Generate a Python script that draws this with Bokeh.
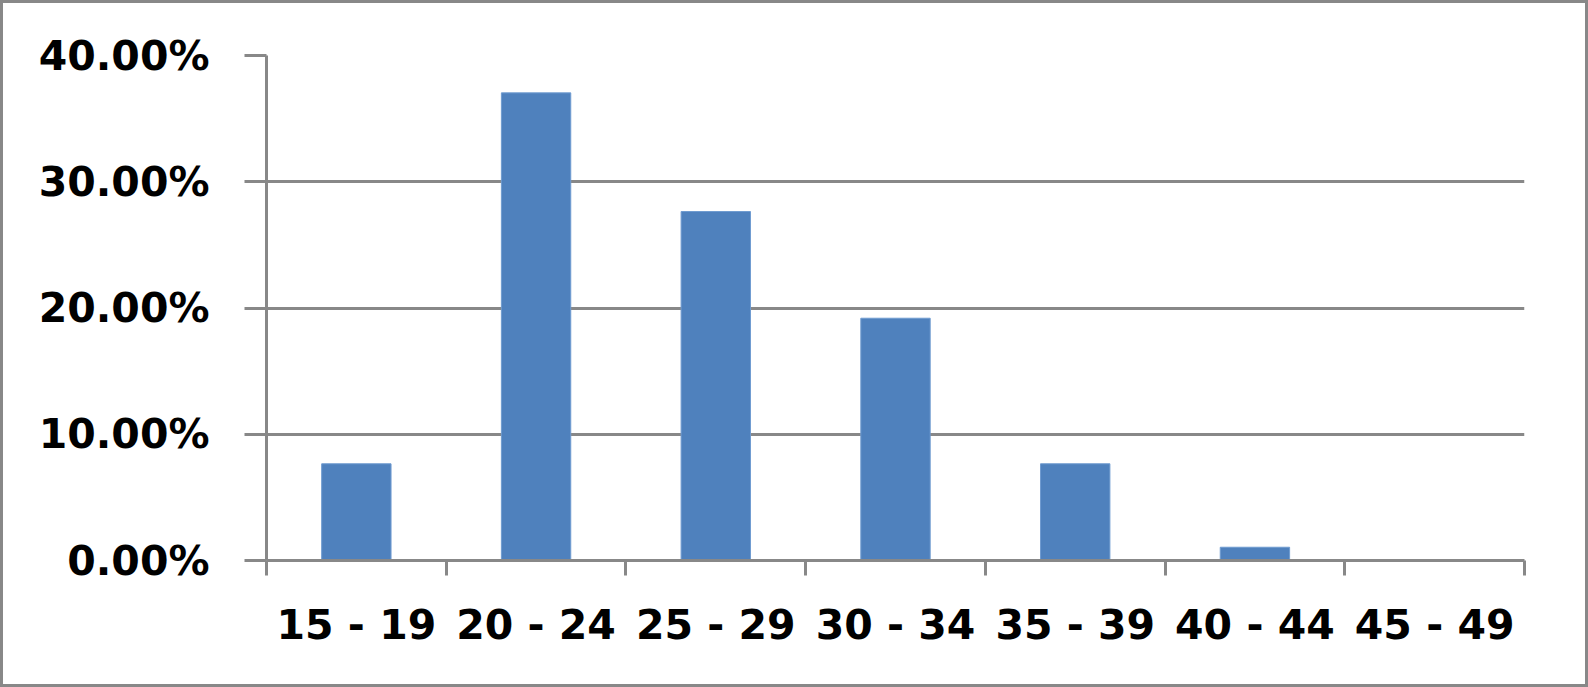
from bokeh.plotting import figure
from bokeh.layouts import column
from bokeh.models import Range1d, FixedTicker, NumeralTickFormatter, ColumnDataSource
from bokeh.embed import file_html
from bokeh.resources import INLINE

categories = ["15 - 19", "20 - 24", "25 - 29", "30 - 34", "35 - 39", "40 - 44", "45 - 49"]
values = [0.0766, 0.3704, 0.2764, 0.1919, 0.0766, 0.0105, 0.0]
y_ticks = [0.0, 0.1, 0.2, 0.3, 0.4]

GRAY = "#888888"
BAR = "#4F81BD"
FONT = "DejaVu Sans"

xs = [i + 0.5 for i in range(len(categories))]
src = ColumnDataSource(dict(x=xs, top=values, cat=categories))

p = figure(width=1582, height=681, output_backend="svg", toolbar_location=None,
           x_range=Range1d(0, len(categories)), y_range=Range1d(0, 0.4),
           min_border_left=263, min_border_right=61, min_border_top=52, min_border_bottom=124)
p.outline_line_color = None
p.background_fill_color = "white"
p.border_fill_color = "white"

p.vbar(x="x", top="top", bottom=0, width=0.386, source=src,
       fill_color=BAR, line_color="#6f9bd0", line_width=1)

# y axis
p.yaxis.ticker = FixedTicker(ticks=y_ticks)
p.yaxis.formatter = NumeralTickFormatter(format="0.00%")
p.yaxis.axis_line_color = GRAY
p.yaxis.axis_line_width = 3
p.yaxis.major_tick_line_color = GRAY
p.yaxis.major_tick_line_width = 3
p.yaxis.major_tick_out = 22
p.yaxis.major_tick_in = 0
p.yaxis.minor_tick_line_color = None
p.yaxis.major_label_standoff = 35
p.yaxis.major_label_text_font = FONT
p.yaxis.major_label_text_font_style = "bold"
p.yaxis.major_label_text_font_size = "41px"
p.yaxis.major_label_text_color = "black"

# x axis: ticks at category boundaries, labels at centres
p.xaxis.ticker = FixedTicker(ticks=xs, minor_ticks=list(range(len(categories) + 1)))
p.xaxis.major_label_overrides = {x: c for x, c in zip(xs, categories)}
p.xaxis.axis_line_color = GRAY
p.xaxis.axis_line_width = 3
p.xaxis.major_tick_line_color = None
p.xaxis.major_tick_out = 0
p.xaxis.major_tick_in = 0
p.xaxis.minor_tick_line_color = GRAY
p.xaxis.minor_tick_line_width = 3
p.xaxis.minor_tick_out = 15
p.xaxis.minor_tick_in = 0
p.xaxis.major_label_standoff = 25
p.xaxis.major_label_text_font = FONT
p.xaxis.major_label_text_font_style = "bold"
p.xaxis.major_label_text_font_size = "41px"
p.xaxis.major_label_text_color = "black"

p.xgrid.visible = False
p.ygrid.ticker = FixedTicker(ticks=y_ticks)
p.ygrid.grid_line_color = GRAY
p.ygrid.grid_line_width = 3

page = column(p, styles={"border": f"3px solid {GRAY}"})

open("out.html", "w").write(file_html(page, INLINE))
